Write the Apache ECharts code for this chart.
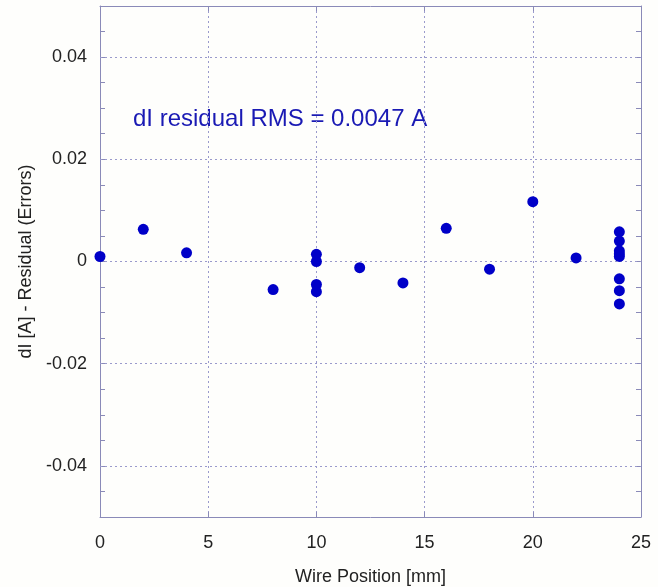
<!DOCTYPE html>
<html>
<head>
<meta charset="utf-8">
<script src="https://cdn.jsdelivr.net/npm/echarts@6/dist/echarts.min.js"></script>
<style>
html,body{margin:0;padding:0;background:#fefefc;}
#chart{width:658px;height:587px;}
</style>
</head>
<body>
<div id="chart"></div>
<script>
// Wire position (mm) and residual dI (A)
var wirePos = [0, 2, 4, 8, 10, 10, 10, 10, 12, 14, 16, 18, 20, 22, 24, 24, 24, 24, 24, 24, 24, 24];
var residual = [0.00098, 0.0063, 0.0017, -0.0055, 0.0014, 0.0000, -0.0045, -0.0059, -0.0012, -0.0042, 0.0065, -0.0015, 0.0117, 0.0007, 0.0058, 0.0040, 0.0021, 0.0015, 0.0010, -0.0034, -0.0057, -0.0083];
var yGridValues = [-0.04, -0.02, 0, 0.02, 0.04];
var yTickLabels = ["-0.04", "-0.02", "0", "0.02", "0.04"];
var xTickLabels = ["0", "5", "10", "15", "20", "25"];
var annotation = "dI residual RMS = 0.0047 A";

var axisColor = '#8a8ab8';
var gridColor = '#9a9acc';
var textColor = '#222222';
var dotColor = '#0000c8';
var fontFam = 'Liberation Sans, Arial, sans-serif';

var points = wirePos.map(function (x, i) { return [x, residual[i]]; });

function yLabel(v) {
  for (var i = 0; i < yGridValues.length; i++) {
    if (Math.abs(v - yGridValues[i]) < 1e-9) return yTickLabels[i];
  }
  return '';
}
function xLabel(v) {
  var idx = xTickLabels.indexOf(String(Math.round(v)));
  return idx >= 0 ? xTickLabels[idx] : '';
}

var chart = echarts.init(document.getElementById('chart'), null, {renderer: 'canvas'});
var yCommon = {
  type: 'value', min: -0.05, max: 0.05, interval: 0.005,
  axisLine: {show: true, onZero: false, lineStyle: {color: axisColor, width: 1}},
  axisTick: {show: true, inside: true, length: 5, lineStyle: {color: axisColor}},
  splitLine: {show: false}
};
var xCommon = {
  type: 'value', min: 0, max: 25, interval: 5,
  axisLine: {show: true, onZero: false, lineStyle: {color: axisColor, width: 1}},
  axisTick: {show: true, inside: true, length: 5, lineStyle: {color: axisColor}}
};
chart.setOption({
  backgroundColor: '#fefefc',
  animation: false,
  grid: {left: 100, right: 17, top: 6, bottom: 70, containLabel: false, outerBoundsMode: 'none'},
  xAxis: [
    Object.assign({}, xCommon, {
      position: 'bottom',
      name: 'Wire Position [mm]', nameLocation: 'middle', nameGap: 51,
      nameTextStyle: {color: textColor, fontSize: 18, fontFamily: fontFam},
      axisLabel: {color: textColor, fontSize: 18, margin: 17, fontFamily: fontFam, formatter: xLabel},
      splitLine: {show: true, lineStyle: {color: gridColor, type: [2, 3], width: 1}}
    }),
    Object.assign({}, xCommon, {
      position: 'top', axisLabel: {show: false}, splitLine: {show: false}
    })
  ],
  yAxis: [
    Object.assign({}, yCommon, {
      position: 'left',
      name: 'dI [A] - Residual (Errors)', nameLocation: 'middle', nameGap: 64, nameRotate: 90,
      nameTextStyle: {color: textColor, fontSize: 18, fontFamily: fontFam},
      axisLabel: {color: textColor, fontSize: 18, margin: 13, fontFamily: fontFam, formatter: yLabel,
                  showMinLabel: true, showMaxLabel: true}
    }),
    Object.assign({}, yCommon, {
      position: 'right', axisLabel: {show: false}
    })
  ],
  graphic: [{
    type: 'text', left: 133, top: 107, silent: true,
    style: {text: annotation, fill: '#1a1ab4', font: '24px "Liberation Sans", Arial, sans-serif'}
  }],
  series: [{
    type: 'scatter',
    xAxisIndex: 0, yAxisIndex: 0,
    data: points,
    symbol: 'circle', symbolSize: 11,
    itemStyle: {color: dotColor, opacity: 1},
    z: 5,
    markLine: {
      silent: true, symbol: ['none', 'none'], animation: false,
      label: {show: false},
      lineStyle: {color: gridColor, type: [2, 3], width: 1},
      emphasis: {disabled: true},
      data: yGridValues.map(function (v) { return {yAxis: v}; })
    }
  }]
});
</script>
</body>
</html>
